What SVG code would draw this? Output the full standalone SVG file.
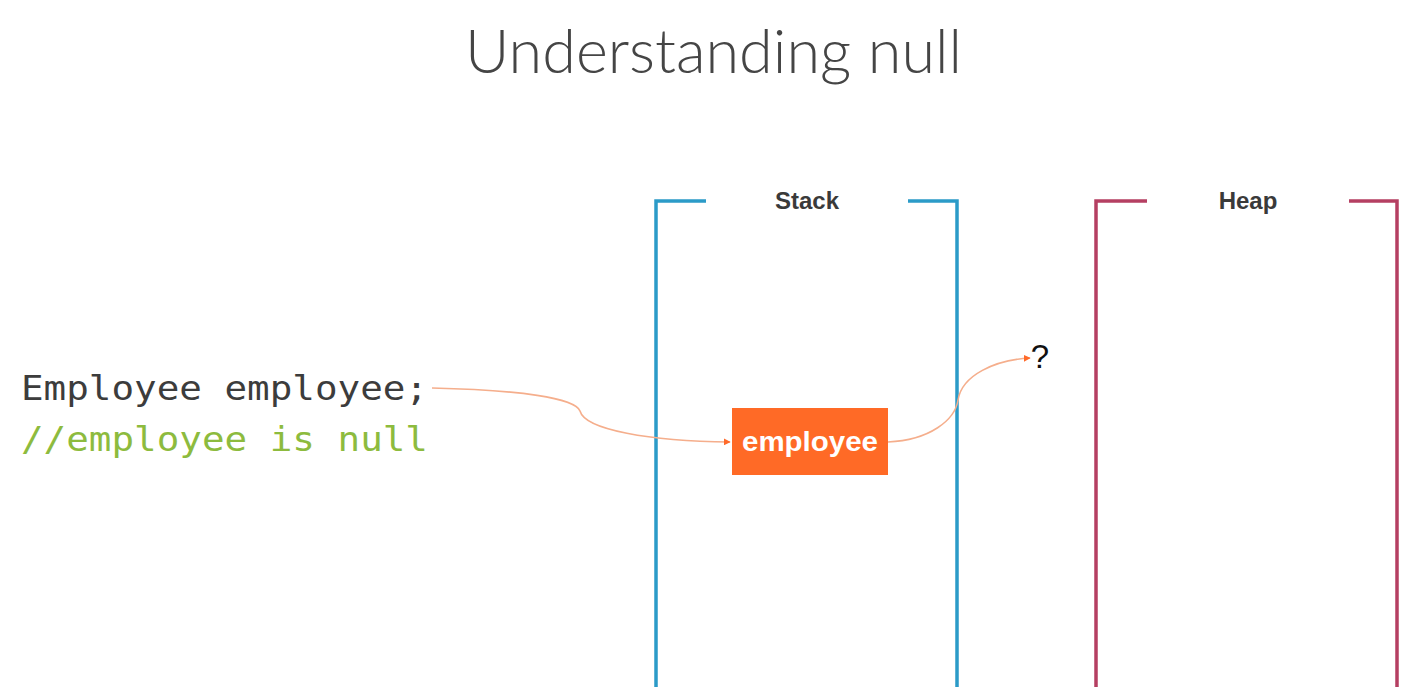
<svg xmlns="http://www.w3.org/2000/svg" width="1405" height="687" viewBox="0 0 1405 687">
<defs>
<style>
.title{font-family:Lato,"Open Sans",sans-serif;font-weight:300;font-size:62px;fill:#454545}
.code{font-family:"DejaVu Sans Mono","Liberation Mono",monospace;font-size:34px}
.lbl{font-family:"Liberation Sans",Arial,sans-serif;font-weight:bold;font-size:24px;fill:#3a3a3a;text-anchor:middle}
.stack{fill:none;stroke:#2b9bc8;stroke-width:3.5}
.heap{fill:none;stroke:#b53f62;stroke-width:3.5}
.conn{fill:none;stroke:#f5ae8c;stroke-width:1.6}
</style>
<marker id="arr" viewBox="0 0 10 10" refX="9" refY="5" markerWidth="7" markerHeight="7" markerUnits="userSpaceOnUse" orient="auto">
<path d="M0,0 L10,5 L0,10 z" fill="#ff6a2a"/>
</marker>
</defs>
<rect width="1405" height="687" fill="#ffffff"/>
<text class="title" x="465" y="73" textLength="497" lengthAdjust="spacingAndGlyphs">Understanding null</text>
<g id="code">
<text class="code" x="21" y="400" fill="#3c3c3c" textLength="407" lengthAdjust="spacingAndGlyphs">Employee employee;</text>
<text class="code" x="21" y="451" fill="#8dbb3e" textLength="407" lengthAdjust="spacingAndGlyphs">//employee is null</text>
</g>
<g id="stack">
<path class="stack" d="M706,201 H656 V690 M908,201 H957 V690"/>
<text class="lbl" x="807" y="209">Stack</text>
</g>
<g id="heap">
<path class="heap" d="M1147,201 H1096 V690 M1349,201 H1397 V690"/>
<text class="lbl" x="1248" y="209">Heap</text>
</g>
<g id="employee">
<rect x="732" y="408" width="156" height="67" fill="#ff6a26"/>
<text x="810" y="451" font-family="'Liberation Sans',Arial,sans-serif" font-weight="bold" font-size="27" fill="#ffffff" text-anchor="middle" textLength="136" lengthAdjust="spacingAndGlyphs">employee</text>
</g>
<g id="question">
<text x="1040" y="368" font-family="'Liberation Sans',Arial,sans-serif" font-size="33" fill="#111111" text-anchor="middle">?</text>
</g>
<g id="connectors">
<path class="conn" d="M432,388 C520,390 575,398 580,411 C585,430 650,441 730,442" marker-end="url(#arr)"/>
<path class="conn" d="M888,442 C930,440 955,420 958,400 C962,375 995,360 1030,358" marker-end="url(#arr)"/>
</g>
</svg>
